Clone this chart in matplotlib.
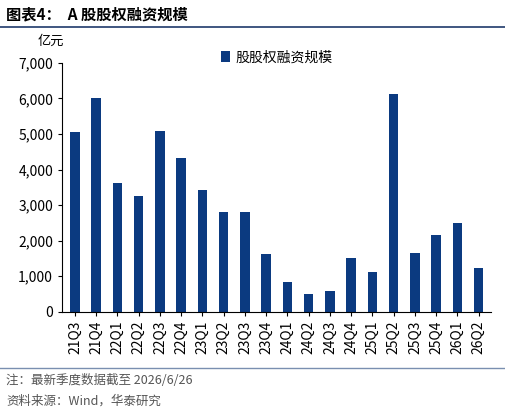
import matplotlib
matplotlib.use("Agg")
import matplotlib.pyplot as plt

plt.rcParams['font.family'] = ['Noto Sans CJK SC', 'DejaVu Sans']

quarters = ["21Q3","21Q4","22Q1","22Q2","22Q3","22Q4","23Q1","23Q2","23Q3","23Q4",
            "24Q1","24Q2","24Q3","24Q4","25Q1","25Q2","25Q3","25Q4","26Q1","26Q2"]
values = [5050,6000,3620,3260,5080,4320,3420,2800,2800,1620,
          850,510,580,1520,1130,6120,1640,2170,2490,1230]
yticks = [0,1000,2000,3000,4000,5000,6000,7000]

fig = plt.figure(figsize=(5.05,4.13), dpi=100)
ax = fig.add_axes([0.123, 0.245, 0.85, 0.603])
bar_color = "#0b3a80"
ax.bar(range(len(values)), values, width=0.45, color=bar_color, label="股股权融资规模")
ax.set_xlim(-0.6, len(values)-0.4)
ax.set_ylim(0, 7000)
ax.set_yticks(yticks)
ax.set_yticklabels([f"{v:,}" for v in yticks], fontsize=10)
ax.set_xticks(range(len(values)))
ax.set_xticklabels(quarters, rotation=90, fontsize=10)
for s in ["top","right"]:
    ax.spines[s].set_visible(False)
ax.tick_params(axis='x', length=3)
ax.tick_params(axis='y', length=3)
ax.legend(loc="upper center", bbox_to_anchor=(0.5, 1.1), frameon=False, fontsize=10,
          handlelength=0.6, handleheight=0.8, handletextpad=0.4)

fig.text(0.012, 0.965, "图表4：  A 股股权融资规模", fontsize=11, fontweight="bold", va="center")
fig.add_artist(plt.Line2D([0.0, 1.0], [0.935, 0.935], color="#1f3a6b", lw=1.2))
fig.text(0.075, 0.9, "亿元", fontsize=9.5, va="center")
fig.add_artist(plt.Line2D([0.0, 1.0], [0.108, 0.108], color="#7a8fb0", lw=1))
fig.text(0.012, 0.078, "注：最新季度数据截至 2026/6/26", fontsize=9, color="#555555", va="center")
fig.text(0.012, 0.028, "资料来源：Wind，华泰研究", fontsize=9, color="#555555", va="center")
fig.savefig("out.png", dpi=100)
